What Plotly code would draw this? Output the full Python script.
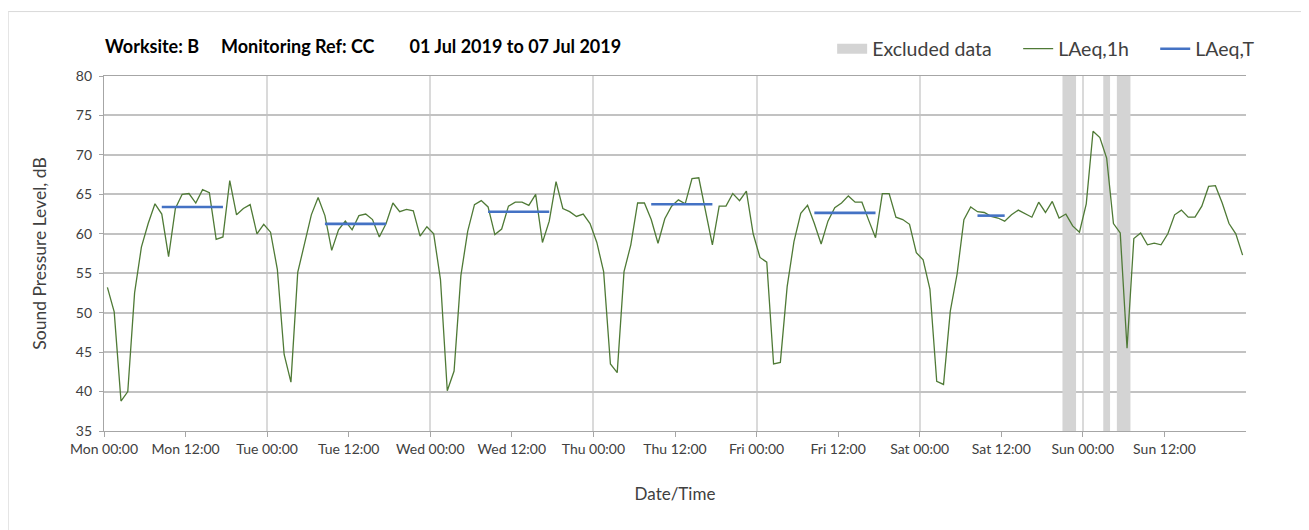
import plotly.graph_objects as go

# Hourly LAeq,1h values (dB), one list per day, 24 values each (hour 00-23)
mon = [53.2, 50.1, 38.8, 40.0, 52.5, 58.3, 61.3, 63.8, 62.5, 57.1, 63.2, 65.0,
       65.1, 63.9, 65.6, 65.2, 59.3, 59.6, 66.75, 62.4, 63.2, 63.7, 60.0, 61.2]
tue = [60.2, 55.5, 44.7, 41.2, 55.1, 58.8, 62.4, 64.6, 62.3, 57.9, 60.5, 61.6,
       60.5, 62.3, 62.5, 61.8, 59.6, 61.3, 63.9, 62.8, 63.1, 62.9, 59.7, 60.9]
wed = [60.0, 54.2, 40.1, 42.6, 54.7, 60.3, 63.7, 64.2, 63.4, 59.9, 60.6, 63.5,
       64.0, 64.0, 63.6, 65.0, 58.9, 61.6, 66.6, 63.2, 62.8, 62.2, 62.5, 61.3]
thu = [58.9, 55.2, 43.5, 42.4, 55.2, 58.6, 63.9, 63.9, 61.8, 58.8, 61.9, 63.5,
       64.3, 63.8, 67.0, 67.1, 62.6, 58.6, 63.5, 63.5, 65.1, 64.2, 65.4, 60.0]
fri = [57.0, 56.4, 43.5, 43.7, 53.3, 59.0, 62.6, 63.6, 61.3, 58.7, 61.6, 63.3,
       63.9, 64.8, 64.0, 64.0, 61.7, 59.5, 65.1, 65.1, 62.1, 61.8, 61.2, 57.6]
sat = [56.7, 53.0, 41.3, 40.9, 50.2, 54.9, 61.8, 63.4, 62.8, 62.7, 62.2, 62.0,
       61.6, 62.4, 63.0, 62.6, 62.1, 64.0, 62.7, 64.1, 62.0, 62.5, 61.0, 60.2]
sun = [63.8, 73.0, 72.2, 69.6, 61.3, 60.1, 45.5, 59.4, 60.1, 58.6, 58.8, 58.6,
       60.0, 62.4, 63.0, 62.1, 62.1, 63.5, 66.0, 66.1, 63.9, 61.3, 60.0, 57.3]
hourly = mon + tue + wed + thu + fri + sat + sun

# LAeq,T periods: start hour, end hour (hours from Mon 00:00), level
period_start = [8, 32, 56, 80, 104, 128]
period_end = [18, 42, 66, 90, 114, 133]
period_level = [63.4, 61.25, 62.8, 63.75, 62.65, 62.3]

# Excluded data periods (hours from Mon 00:00)
excl_start = [141, 147, 149]
excl_end = [143, 148, 151]

day_names = ["Mon", "Tue", "Wed", "Thu", "Fri", "Sat", "Sun"]
tick_hours = list(range(0, 168, 12))
tick_labels = [f"{day_names[h // 24]} {h % 24:02d}:00" for h in tick_hours]

FONT = "Lato"
GREEN = "#4F7A36"
BLUE = "#4472C4"
GREY_BAND = "#D4D4D4"
TXT = "#404040"

x_hours = [h + 0.5 for h in range(len(hourly))]

fig = go.Figure()

# Excluded data bands
fig.add_trace(go.Bar(
    x=[(s + e) / 2 for s, e in zip(excl_start, excl_end)],
    width=[e - s for s, e in zip(excl_start, excl_end)],
    y=[45] * len(excl_start), base=35,
    marker=dict(color=GREY_BAND, line=dict(width=0)),
    name="Excluded data", showlegend=False, hoverinfo="skip",
))
# legend entry for the excluded bands (wide grey swatch)
fig.add_trace(go.Scatter(
    x=[None], y=[None], mode="lines",
    line=dict(color=GREY_BAND, width=10),
    name="Excluded data", legend="legend4", hoverinfo="skip",
))

fig.add_trace(go.Scatter(
    x=x_hours, y=hourly, mode="lines",
    line=dict(color=GREEN, width=1.3),
    name="LAeq,1h", legend="legend2",
))

px, py = [], []
for s, e, v in zip(period_start, period_end, period_level):
    px += [s + 0.5, e - 0.5, None]
    py += [v, v, None]
fig.add_trace(go.Scatter(
    x=px, y=py, mode="lines",
    line=dict(color=BLUE, width=2.6),
    name="LAeq,T", legend="legend3",
))

leg_common = dict(orientation="h", yanchor="middle", y=1.076, xanchor="left",
                  font=dict(family=FONT, size=19.5, color=TXT),
                  bgcolor="rgba(0,0,0,0)", borderwidth=0)

fig.update_layout(
    width=1309, height=530,
    margin=dict(l=96.3, r=71.3, t=68, b=106.7),
    paper_bgcolor="white", plot_bgcolor="white",
    font=dict(family=FONT, color=TXT),
    barmode="overlay",
    legend2=dict(x=0.8005, **leg_common),
    legend3=dict(x=0.9205, **leg_common),
    legend4=dict(x=0.6376, **leg_common),
    xaxis=dict(
        range=[0, 168], tickvals=tick_hours, ticktext=tick_labels,
        ticks="outside", ticklen=5, tickcolor="#A6A6A6",
        tickfont=dict(family=FONT, size=14, color=TXT),
        showgrid=False, zeroline=False,
        showline=True, linecolor="#A6A6A6", linewidth=1.3, mirror=True,
        minor=dict(tickvals=list(range(24, 168, 24)), showgrid=True,
                   gridcolor="#DADADA", gridwidth=1.5, ticks=""),
        title=dict(text="Date/Time", font=dict(family=FONT, size=17, color=TXT),
                   standoff=32),
    ),
    yaxis=dict(
        range=[35, 80], dtick=5, ticks="outside", ticklen=4, tickcolor="#A6A6A6",
        ticklabelstandoff=4,
        tickfont=dict(family=FONT, size=14, color=TXT),
        showgrid=True, gridcolor="#C2C2C2", gridwidth=1.5, zeroline=False,
        showline=True, linecolor="#A6A6A6", linewidth=1.3,
        title=dict(text="Sound Pressure Level, dB",
                   font=dict(family=FONT, size=17.5, color=TXT), standoff=24),
    ),
    annotations=[dict(
        text="<b>Worksite: B\u00a0\u00a0\u00a0\u00a0\u00a0Monitoring Ref: CC\u00a0\u00a0\u00a0\u00a0\u00a0\u00a0\u00a0\u00a001 Jul 2019 to 07 Jul 2019</b>",
        xref="paper", yref="paper", x=-0.001, y=1.084, xanchor="left", yanchor="middle",
        showarrow=False, font=dict(family=FONT, size=18, color="#000000"),
    )],
    shapes=[dict(type="rect", xref="paper", yref="paper",
                 x0=-0.0839, x1=1.0546, y0=-0.35, y1=1.1815,
                 line=dict(color="#D9D9D9", width=1), layer="below")],
)

fig.write_html("out.html")
